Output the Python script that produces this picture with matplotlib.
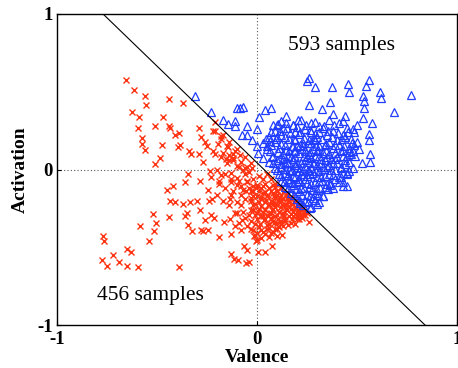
import matplotlib
matplotlib.use("Agg")
import matplotlib.pyplot as plt

plt.rcParams['font.family'] = ['Liberation Serif', 'DejaVu Serif']

# ---- data ----
red_x = [-0.657,-0.613,-0.558,-0.557,-0.623,-0.592,-0.597,-0.573,-0.573,-0.56,-0.51,-0.483,-0.44,-0.373,-0.47,-0.512,-0.44,-0.435,-0.39,-0.413,-0.475,-0.397,-0.385,-0.34,-0.33,-0.293,-0.283,-0.25,-0.292,-0.347,-0.36,-0.42,-0.453,-0.435,-0.412,-0.373,-0.335,-0.302,-0.285,-0.238,-0.245,-0.225,-0.52,-0.44,-0.507,-0.513,-0.587,-0.54,-0.77,-0.765,-0.652,-0.63,-0.72,-0.777,-0.748,-0.688,-0.652,-0.593,-0.39,-0.36,-0.348,-0.327,-0.353,-0.288,-0.262,-0.232,-0.215,-0.283,-0.27,-0.248,-0.193,-0.165,-0.137,-0.133,-0.137,-0.133,-0.192,-0.18,-0.133,-0.103,-0.212,-0.195,-0.18,-0.213,-0.147,-0.14,-0.157,-0.12,-0.1,-0.088,-0.06,-0.04,-0.028,-0.083,-0.058,-0.05,-0.02,-0.02,-0.133,-0.115,-0.098,-0.055,-0.042,-0.065,-0.05,0.002,0.04,0.072,-0.007,-0.015,0.097,0.122,0.257,0.222,-0.083,-0.078,-0.1,-0.112,
         0.00,0.02,0.04,0.06,0.03,0.05,0.08,0.10,0.12,0.09,0.07,0.11,0.13,0.15,0.14,0.16,0.18,0.17,0.19,0.21,0.20,0.22,0.12,0.10,0.08,0.06,0.04,0.02,0.00,-0.02,-0.04,-0.03,-0.01,0.01,0.03,0.05,0.07,0.09,0.11,0.13,0.15,0.16,0.14,0.12,0.10,0.08,0.06,0.04,0.02,0.00,-0.02,-0.04,-0.06,-0.03,-0.01,0.01,0.03,0.05,0.07,0.09,0.11,0.13,0.18,0.20,0.22,0.24,0.19,0.17,-0.01,0.00,-0.02,0.02,0.06,-0.05,-0.07,-0.08,-0.06,-0.08,-0.05,-0.02,0.01,0.03,0.05,0.07,0.08,-0.10,-0.11,-0.09,-0.12,0.15,0.17,0.19,0.23,0.25,0.21,0.12,0.09,
         -0.12,-0.08,-0.15,-0.18,-0.22,-0.10,-0.05,-0.14,-0.17,-0.07,0.04,0.08,0.11,0.14,0.18,0.16,0.10,0.07,0.13,0.09]
red_y = [0.573,0.514,0.475,0.413,0.368,0.336,0.266,0.203,0.167,0.124,0.036,0.073,0.454,0.426,0.338,0.283,0.283,0.266,0.236,0.221,0.161,0.148,0.156,0.122,0.10,0.268,0.208,0.15,0.099,-0.03,-0.081,-0.103,-0.133,-0.203,-0.21,-0.218,-0.208,-0.203,-0.075,-0.009,-0.133,-0.19,-0.285,-0.304,-0.343,-0.396,-0.364,-0.456,-0.428,-0.456,-0.51,-0.529,-0.55,-0.578,-0.619,-0.593,-0.621,-0.627,-0.625,-0.295,-0.355,-0.396,-0.278,-0.261,-0.321,-0.289,-0.31,-0.39,-0.392,-0.39,-0.433,-0.338,-0.317,-0.411,-0.188,-0.081,-0.075,-0.036,-0.024,-0.054,0.103,0.167,0.214,0.308,0.148,0.092,0.069,0.075,0.021,0.096,0.011,-0.015,0.011,-0.103,-0.139,-0.075,-0.107,-0.171,-0.54,-0.574,-0.582,-0.6,-0.593,-0.493,-0.514,-0.529,-0.529,-0.493,-0.46,-0.428,-0.428,-0.418,-0.336,-0.31,-0.385,-0.321,-0.278,-0.364,
         -0.10,-0.12,-0.09,-0.12,-0.15,-0.17,-0.15,-0.14,-0.16,-0.18,-0.20,-0.20,-0.19,-0.18,-0.22,-0.21,-0.22,-0.25,-0.24,-0.23,-0.27,-0.26,-0.24,-0.23,-0.25,-0.23,-0.21,-0.19,-0.17,-0.14,-0.12,-0.18,-0.22,-0.25,-0.27,-0.29,-0.28,-0.30,-0.27,-0.28,-0.26,-0.30,-0.32,-0.33,-0.34,-0.33,-0.35,-0.32,-0.30,-0.28,-0.26,-0.29,-0.31,-0.33,-0.35,-0.37,-0.40,-0.38,-0.41,-0.38,-0.37,-0.36,-0.30,-0.32,-0.30,-0.29,-0.35,-0.34,-0.42,-0.45,-0.39,-0.44,-0.43,-0.36,-0.27,-0.23,-0.19,-0.16,-0.08,-0.06,-0.04,-0.06,-0.03,-0.06,-0.10,-0.21,-0.28,-0.34,-0.14,-0.15,-0.18,-0.21,-0.25,-0.28,-0.29,-0.12,-0.09,
         0.10,0.05,0.15,0.20,0.25,0.13,0.02,0.06,0.11,0.00,-0.26,-0.22,-0.19,-0.24,-0.27,-0.20,-0.16,-0.31,-0.29,-0.22]

# denser part of the red cluster
red_dense_x = [0.00,0.03,0.06,0.09,
               -0.03,0.01,0.04,0.07,0.10,0.13,
               -0.02,0.02,0.055,0.085,0.115,0.145,0.165,
               -0.03,0.01,0.045,0.08,0.12,0.155,0.185,
               -0.02,0.02,0.055,0.09,0.125,0.16,0.195,0.215,
               -0.03,0.005,0.04,0.075,0.11,0.145,0.18,0.21,0.235,
               -0.01,0.03,0.065,0.10,0.135,0.17,0.20,0.23,
               0.0,0.035,0.07,0.105,0.14,0.175,0.21,
               0.015,0.05,0.085,0.12,0.155,
               -0.03,0.02,0.06,0.10,
               0.0,0.04,0.08,
               -0.22,-0.18,-0.15,-0.12,-0.09,-0.20,-0.16,-0.13,-0.10,-0.07,-0.23,-0.19,-0.16,-0.13,-0.20,-0.17,-0.14,-0.24,-0.11,-0.14,-0.17,-0.06,-0.03,-0.06,-0.09,-0.26,-0.27,-0.21]
red_dense_y = [-0.11,-0.105,-0.115,-0.11,
               -0.14,-0.135,-0.145,-0.14,-0.135,-0.145,
               -0.17,-0.175,-0.165,-0.17,-0.175,-0.165,-0.18,
               -0.20,-0.205,-0.195,-0.21,-0.20,-0.205,-0.21,
               -0.23,-0.235,-0.225,-0.24,-0.23,-0.235,-0.245,-0.24,
               -0.26,-0.265,-0.255,-0.26,-0.27,-0.255,-0.265,-0.27,-0.275,
               -0.29,-0.295,-0.285,-0.29,-0.30,-0.285,-0.295,-0.29,
               -0.32,-0.325,-0.315,-0.32,-0.33,-0.315,-0.32,
               -0.35,-0.355,-0.345,-0.35,-0.355,
               -0.38,-0.385,-0.375,-0.38,
               -0.41,-0.415,-0.40,
               0.12,0.08,0.04,0.06,0.02,0.00,-0.03,-0.06,-0.10,-0.13,-0.05,-0.09,-0.12,-0.16,-0.16,-0.20,-0.23,-0.20,0.12,0.18,0.22,0.08,0.04,-0.03,-0.07,0.18,0.05,0.25]

blue_x = [0.258,0.247,0.29,0.375,0.453,0.46,0.558,0.545,0.613,0.617,0.767,0.682,0.53,0.533,0.535,0.53,0.575,0.558,0.56,0.563,0.563,0.522,0.363,0.26,0.323,-0.312,-0.233,-0.103,-0.087,-0.07,0.038,0.068,0.008,0.145,-0.173,-0.147,-0.11,-0.11,-0.053,0.0,-0.078,-0.053,-0.028,-0.003,0.002,0.03,0.047,0.077,0.105,0.13,0.097,0.063,0.18,0.205,0.38,0.438,0.5,0.483,0.472,0.48,0.447,0.447,0.447,0.43,0.363,0.33,0.263,0.213,
          0.12,0.18,0.22,0.27,0.31,0.36,0.41,0.45,0.09,0.15,0.19,0.24,0.29,0.33,0.38,0.43,0.48,0.06,0.12,0.16,0.21,0.26,0.30,0.35,0.40,0.44,0.50,0.03,0.09,0.14,0.19,0.23,0.27,0.31,0.36,0.41,0.46,0.05,0.11,0.16,0.20,0.24,0.28,0.33,0.38,0.42,0.47,0.51,0.08,0.13,0.17,0.21,0.25,0.29,0.32,0.36,0.40,0.44,0.49,0.06,0.10,0.14,0.18,0.22,0.26,0.30,0.34,0.38,0.42,0.46,0.09,0.12,0.16,0.19,0.23,0.27,0.31,0.35,0.39,0.43,0.48,0.11,0.14,0.18,0.21,0.25,0.28,0.32,0.36,0.41,0.45,0.12,0.16,0.20,0.24,0.27,0.31,0.35,0.39,0.43,0.14,0.18,0.22,0.26,0.30,0.34,0.38,0.17,0.21,0.25,0.29,0.33,0.20,0.24,0.28,0.31,0.23,0.27,0.30,
          0.15,0.20,0.24,0.28,0.17,0.22,0.26,0.19,0.30,0.33,0.13,0.23,0.29,0.34,0.37,0.16,0.21,0.26,0.18,0.27]
blue_y = [0.587,0.567,0.531,0.531,0.552,0.499,0.574,0.54,0.501,0.46,0.482,0.368,0.471,0.439,0.396,0.332,0.3,0.231,0.193,0.103,0.047,0.043,0.433,0.415,0.39,0.471,0.368,0.396,0.396,0.403,0.381,0.396,0.338,0.347,0.317,0.296,0.31,0.278,0.278,0.261,0.225,0.225,0.193,0.15,0.107,0.075,0.15,0.289,0.296,0.268,0.21,0.182,0.289,0.317,0.358,0.343,0.289,0.24,0.171,0.118,0.086,-0.021,-0.107,-0.107,-0.096,-0.171,-0.246,-0.214,
          0.31,0.29,0.32,0.30,0.28,0.32,0.30,0.27,0.25,0.27,0.24,0.26,0.23,0.27,0.25,0.22,0.26,0.21,0.22,0.20,0.23,0.19,0.21,0.22,0.19,0.21,0.18,0.17,0.18,0.16,0.19,0.15,0.17,0.15,0.18,0.16,0.14,0.13,0.14,0.12,0.15,0.12,0.13,0.11,0.14,0.12,0.10,0.13,0.09,0.10,0.08,0.11,0.08,0.09,0.07,0.10,0.08,0.06,0.09,0.05,0.06,0.04,0.07,0.04,0.05,0.03,0.06,0.04,0.02,0.05,0.01,0.02,0.00,0.03,0.00,0.01,-0.01,0.02,0.00,-0.02,0.01,-0.03,-0.02,-0.04,-0.01,-0.04,-0.02,-0.05,-0.03,-0.05,-0.03,-0.07,-0.06,-0.08,-0.06,-0.09,-0.07,-0.09,-0.06,-0.08,-0.11,-0.10,-0.12,-0.11,-0.13,-0.11,-0.12,-0.15,-0.14,-0.16,-0.15,-0.17,-0.19,-0.20,-0.18,-0.21,-0.23,-0.24,-0.22,
          0.05,0.02,0.06,0.04,-0.01,-0.03,0.10,0.12,0.12,0.02,0.07,0.17,0.19,0.16,0.07,-0.08,-0.06,-0.01,0.15,0.24]

# denser part of the blue cluster
blue_dense_x = [0.10,0.145,0.20,0.245,0.29,0.335,0.385,0.43,
                0.07,0.115,0.165,0.215,0.265,0.31,0.355,0.405,0.455,
                0.045,0.095,0.14,0.185,0.235,0.285,0.325,0.375,0.425,0.47,
                0.07,0.12,0.175,0.215,0.255,0.295,0.345,0.39,0.435,0.485,
                0.065,0.105,0.145,0.185,0.225,0.265,0.305,0.345,0.39,0.43,0.46,
                0.075,0.115,0.155,0.19,0.235,0.27,0.31,0.35,0.39,0.43,
                0.08,0.12,0.16,0.20,0.24,0.285,0.32,0.36,0.40,0.44,
                0.10,0.14,0.175,0.215,0.255,0.295,0.335,0.37,0.42,0.46,
                0.12,0.155,0.19,0.23,0.265,0.30,0.34,0.38,0.42,
                0.135,0.175,0.21,0.25,0.29,0.325,0.365,0.41,
                0.155,0.195,0.235,0.275,0.315,0.355,
                0.185,0.225,0.265,0.305,
                0.215,0.255,0.29]
blue_dense_y = [0.285,0.30,0.275,0.29,0.305,0.28,0.29,0.31,
                0.24,0.25,0.235,0.245,0.255,0.24,0.25,0.235,0.245,
                0.20,0.195,0.21,0.20,0.205,0.195,0.20,0.21,0.20,0.195,
                0.16,0.165,0.155,0.16,0.17,0.155,0.165,0.16,0.15,0.16,
                0.12,0.115,0.125,0.12,0.13,0.115,0.125,0.12,0.11,0.125,0.115,
                0.08,0.075,0.085,0.08,0.09,0.075,0.085,0.08,0.07,0.085,
                0.04,0.035,0.045,0.04,0.025,0.04,0.045,0.03,0.04,0.035,
                0.00,0.005,-0.005,0.01,0.00,-0.01,0.005,-0.005,0.01,-0.01,
                -0.04,-0.035,-0.045,-0.04,-0.03,-0.045,-0.04,-0.035,-0.045,
                -0.08,-0.085,-0.075,-0.085,-0.08,-0.075,-0.085,-0.08,
                -0.12,-0.125,-0.115,-0.13,-0.12,-0.125,
                -0.165,-0.16,-0.17,-0.16,
                -0.20,-0.205,-0.195]

line_x = [-0.77, 0.84]
line_y = [1.0, -1.0]

ticks = [-1, 0, 1]
tick_labels = ['-1', '0', '1']

# ---- figure ----
fig = plt.figure(figsize=(4.58, 3.68), dpi=100)
ax = fig.add_axes([0.1245, 0.116, 0.874, 0.846])

ax.axhline(0, color='#555555', lw=0.8, ls=(0, (1, 2)), zorder=1)
ax.axvline(0, color='#555555', lw=0.8, ls=(0, (1, 2)), zorder=1)

red_style = dict(ls='none', marker='x', ms=4.5, mew=1.0, color='#ff3311', zorder=2)
blue_style = dict(ls='none', marker='^', ms=6, mew=0.9, mfc='none', mec='#1f3cff', zorder=3)
ax.plot(red_x, red_y, **red_style)
ax.plot(red_dense_x, red_dense_y, **red_style)
ax.plot(blue_x, blue_y, **blue_style)
ax.plot(blue_dense_x, blue_dense_y, **blue_style)
ax.plot(line_x, line_y, color='black', lw=0.8, zorder=4)

ax.text(0.42, 0.795, '593 samples', fontsize=15.5, ha='center', va='center')
ax.text(-0.533, -0.81, '456 samples', fontsize=15.5, ha='center', va='center')

ax.set_xlim(-1, 1)
ax.set_ylim(-1, 1)
ax.set_xticks(ticks)
ax.set_xticklabels(tick_labels, fontsize=13.5, fontweight='bold')
ax.set_yticks(ticks)
ax.set_yticklabels(tick_labels, fontsize=13.5, fontweight='bold')
ax.tick_params(axis='x', direction='in', length=3, width=0.8, pad=4)
ax.tick_params(axis='y', direction='in', length=3, width=0.8, pad=3)
for s in ax.spines.values():
    s.set_linewidth(1.0)

ax.set_xlabel('Valence', fontsize=14, fontweight='bold', va='top')
ax.xaxis.set_label_coords(0.5, -0.075)
ax.set_ylabel('Activation', fontsize=14, fontweight='bold')
ax.yaxis.set_label_coords(-0.07, 0.5)

fig.savefig('out.png', dpi=100)
